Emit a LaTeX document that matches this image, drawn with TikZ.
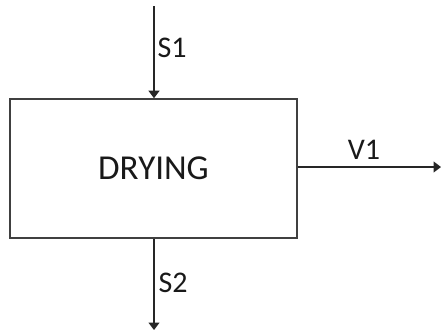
\documentclass[tikz,border=0pt]{standalone}
\usepackage{fontspec}
\setmainfont{Carlito}
\usetikzlibrary{arrows.meta}
\begin{document}
\begin{tikzpicture}[x=1pt,y=-1pt,
  flow/.style={draw=black!85, line width=1.3pt, -{Triangle[length=7.5pt,width=11pt]}},
  lbl/.style={font=\fontsize{30}{32}\selectfont, text=black!90, inner sep=0pt},
  proc/.style={draw=black!75, line width=1.6pt, minimum width=287pt, minimum height=139pt, inner sep=0pt, font=\fontsize{35}{38}\selectfont, text=black!90}]
\useasboundingbox (0,0) rectangle (441,333);
\node[proc] (dry) at (153.5,168.5) {DRYING};
\coordinate (s1in) at (154,6);
\coordinate (s2out) at (154,330);
\coordinate (v1out) at (441,167);
\draw[flow] (s1in) -- (s1in |- dry.north);
\draw[flow] (s2out |- dry.south) -- (s2out);
\draw[flow] (dry.east |- v1out) -- (v1out);
\node[lbl] (s1) at (172,48) {S1};
\node[lbl] (s2) at (173,283) {S2};
\node[lbl] (v1) at (364,150) {V1};
\end{tikzpicture}
\end{document}
